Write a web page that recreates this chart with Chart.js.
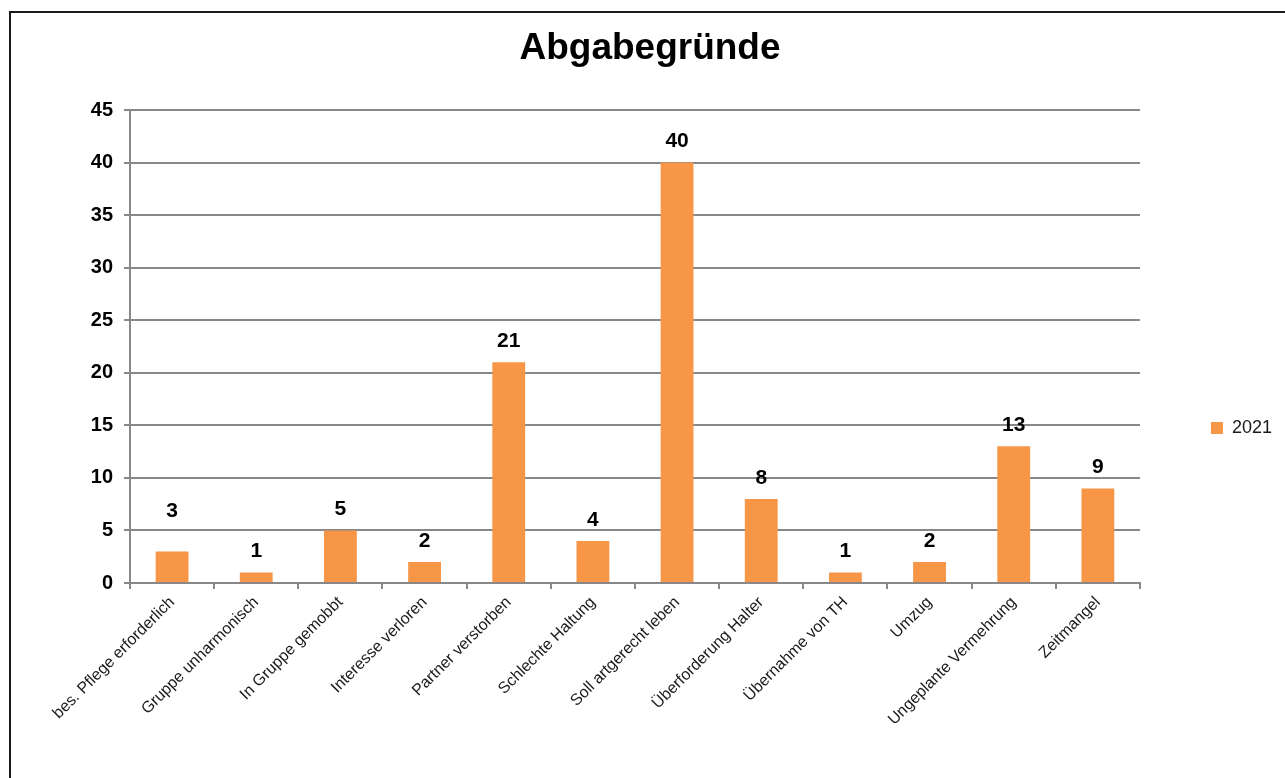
<!DOCTYPE html>
<html>
<head>
<meta charset="utf-8">
<script src="https://cdn.jsdelivr.net/npm/chart.js@4.4.1/dist/chart.umd.min.js"></script>
<style>
  html, body { margin: 0; padding: 0; background: #fff; }
  #wrap { position: absolute; left: 0; top: 0; width: 1285px; height: 778px; }
  #frame { position: absolute; left: 9px; top: 11px; width: 1290px; height: 790px;
           border-left: 2px solid #1a1a1a; border-top: 2px solid #1a1a1a; pointer-events: none; }
</style>
</head>
<body>
<div id="wrap"><canvas id="c" width="1285" height="778"></canvas></div>
<div id="frame"></div>
<script>
const categories = [
  "bes. Pflege erforderlich",
  "Gruppe unharmonisch",
  "In Gruppe gemobbt",
  "Interesse verloren",
  "Partner verstorben",
  "Schlechte Haltung",
  "Soll artgerecht leben",
  "Überforderung Halter",
  "Übernahme von TH",
  "Umzug",
  "Ungeplante Vermehrung",
  "Zeitmangel"
];
const values2021 = [3, 1, 5, 2, 21, 4, 40, 8, 1, 2, 13, 9];
const seriesName = "2021";
const titleText = "Abgabegründe";
const yMin = 0, yMax = 45, yStep = 5;

const FONT = "'Liberation Sans', Arial, sans-serif";

const dataLabels = {
  id: 'dataLabels',
  afterDatasetsDraw(chart, args, opts) {
    const ctx = chart.ctx;
    const meta = chart.getDatasetMeta(0);
    ctx.save();
    ctx.font = "bold 21px " + FONT;
    ctx.fillStyle = "#000";
    ctx.textAlign = "center";
    ctx.textBaseline = "middle";
    meta.data.forEach((bar, i) => {
      const v = chart.data.datasets[0].data[i];
      const off = (opts.extra && opts.extra[i]) ? opts.extra[i] : 0;
      ctx.fillText(String(v), bar.x, bar.y - 21 - off);
    });
    ctx.restore();
  }
};

new Chart(document.getElementById('c'), {
  type: 'bar',
  data: {
    labels: categories,
    datasets: [{
      label: seriesName,
      data: values2021,
      backgroundColor: '#F79646',
      borderWidth: 0,
      barPercentage: 0.39,
      categoryPercentage: 1.0
    }]
  },
  options: {
    responsive: false,
    animation: false,
    devicePixelRatio: 1,
    layout: { padding: { left: 18, right: 3, top: 0, bottom: 0 } },
    plugins: {
      title: {
        display: true,
        text: titleText,
        color: '#000',
        font: { family: FONT, size: 37, weight: 'bold', lineHeight: 1.2 },
        padding: { top: 27, bottom: 38.6 }
      },
      legend: {
        position: 'right',
        maxWidth: 160,
        title: { display: true, text: ' ', font: { size: 10, lineHeight: 1 }, padding: { top: 68, bottom: 0 } },
        labels: {
          boxWidth: 12,
          boxHeight: 12,
          padding: 71,
          color: '#1a1a1a',
          font: { family: FONT, size: 18 }
        }
      },
      tooltip: { enabled: false },
      dataLabels: { extra: { 0: 19 } }
    },
    scales: {
      x: {
        afterFit(scale) { scale.height = 195; },
        grid: { display: true, drawOnChartArea: false, drawTicks: true, tickLength: 6, color: '#888', lineWidth: 2, offset: true },
        border: { display: true, color: '#888', width: 2 },
        ticks: {
          autoSkip: false,
          minRotation: 45,
          maxRotation: 45,
          padding: 4,
          color: '#1a1a1a',
          font: { family: FONT, size: 16 }
        }
      },
      y: {
        min: yMin,
        max: yMax,
        afterFit(scale) { scale.width = 112; },
        grid: { color: '#888', lineWidth: 2, tickLength: 6 },
        border: { display: true, color: '#888', width: 2 },
        ticks: {
          stepSize: yStep,
          padding: 11,
          color: '#000',
          font: { family: FONT, size: 20, weight: 'bold' }
        }
      }
    }
  },
  plugins: [dataLabels]
});
</script>
</body>
</html>
